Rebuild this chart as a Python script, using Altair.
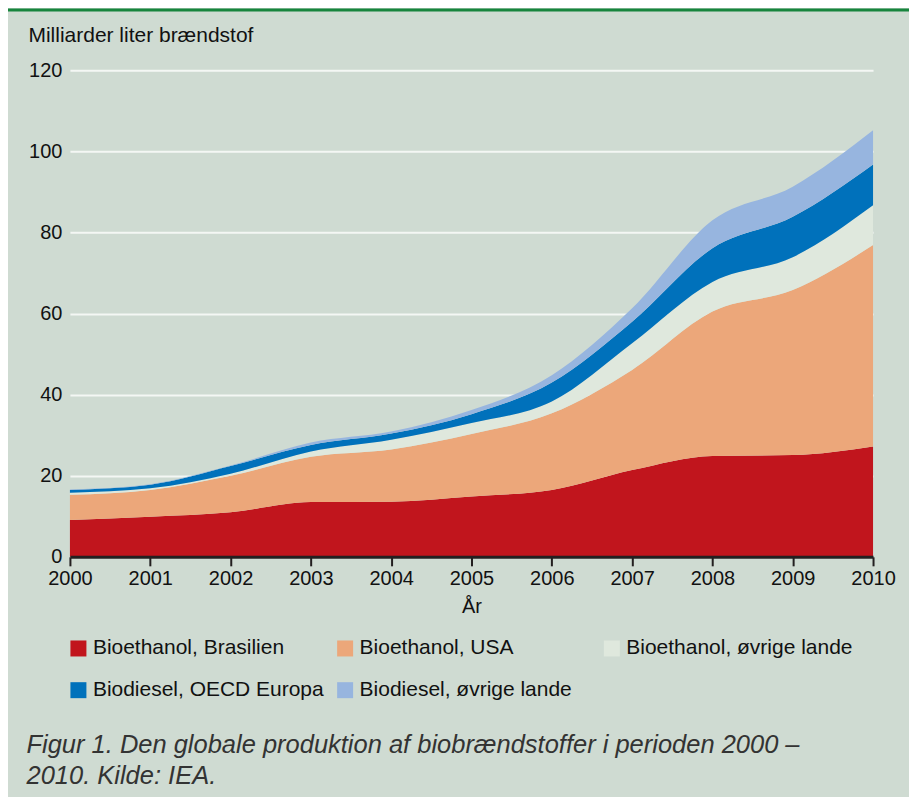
import altair as alt
import pandas as pd

years = list(range(2000, 2011))
series = [
    "Bioethanol, Brasilien",
    "Bioethanol, USA",
    "Bioethanol, øvrige lande",
    "Biodiesel, OECD Europa",
    "Biodiesel, øvrige lande",
]
# Milliarder liter per year (stack components)
bioethanol_brasilien = [9.1, 9.9, 11.0, 13.5, 13.6, 14.9, 16.5, 21.4, 24.9, 25.1, 27.2]
bioethanol_usa = [6.2, 6.6, 9.0, 11.2, 12.9, 15.4, 18.9, 24.7, 35.6, 40.7, 49.7]
bioethanol_ovrige = [0.5, 0.4, 0.5, 1.3, 2.4, 2.7, 2.9, 6.6, 7.3, 8.1, 9.8]
biodiesel_oecd = [0.7, 0.9, 1.9, 1.6, 1.5, 2.2, 4.7, 5.3, 8.3, 10.0, 10.1]
biodiesel_ovrige = [0.1, 0.1, 0.1, 0.6, 0.5, 1.0, 1.8, 3.3, 6.9, 7.4, 8.4]
colors = ["#c1151d", "#eca77a", "#dfe8dd", "#0071bb", "#97b5df"]
y_ticks = [0, 20, 40, 60, 80, 100, 120]
caption = [
    "Figur 1. Den globale produktion af biobrændstoffer i perioden 2000 –",
    "2010. Kilde: IEA.",
]

all_vals = [bioethanol_brasilien, bioethanol_usa, bioethanol_ovrige, biodiesel_oecd, biodiesel_ovrige]
rows = []
for i, (name, vals) in enumerate(zip(series, all_vals)):
    for yr, v in zip(years, vals):
        rows.append({"year": yr, "series": name, "value": v, "order": i})
df = pd.DataFrame(rows)

FONT = "Liberation Sans"

area = alt.Chart(df).mark_area(interpolate="monotone").encode(
    x=alt.X(
        "year:Q",
        scale=alt.Scale(domain=[2000, 2010], nice=False, zero=False),
        axis=alt.Axis(
            values=years, format="d", title="År", grid=False,
            domainColor="#231f20", domainWidth=3, tickColor="#231f20",
            tickWidth=2, tickSize=9, labelFontSize=20, labelColor="#111",
            labelPadding=3, labelFlush=False, titleFontSize=20,
            titleFontWeight="normal", titleColor="#111", titlePadding=8,
            zindex=1, labelFont=FONT, titleFont=FONT,
        ),
    ),
    y=alt.Y(
        "value:Q", stack="zero",
        scale=alt.Scale(domain=[0, 120], nice=False),
        axis=alt.Axis(
            values=y_ticks, title="Milliarder liter brændstof", domain=False,
            ticks=False, gridColor="#f4f7f4", gridWidth=2, labelFontSize=20,
            labelColor="#111", labelPadding=8, labelFont=FONT,
            titleAngle=0, titleAlign="left", titleBaseline="alphabetic",
            titleX=-42, titleY=-29, titleFontSize=21, titleFontWeight="normal",
            titleColor="#111", titleFont=FONT, zindex=0,
        ),
    ),
    color=alt.Color(
        "series:N",
        scale=alt.Scale(domain=series, range=colors),
        legend=alt.Legend(
            title=None, orient="none", legendX=-2, legendY=568, columns=3,
            direction="horizontal", gridAlign="all", columnPadding=10,
            rowPadding=20, symbolType="square", symbolSize=256,
            symbolStrokeWidth=0, symbolOpacity=1, labelFontSize=21,
            labelColor="#111", labelOffset=4, labelFont=FONT, padding=0,
            labelLimit=400,
        ),
    ),
    order=alt.Order("order:Q", sort="ascending"),
)

top_line = alt.Chart(pd.DataFrame({"a": [0]})).mark_rule(
    color="#17853d", strokeWidth=3
).encode(x=alt.value(-62), x2=alt.value(850), y=alt.value(-60.5))

chart = alt.layer(area, top_line).properties(
    width=804,
    height=487,
    padding={"left": 62, "top": 62, "right": 36, "bottom": 240},
    autosize=alt.AutoSizeParams(type="none"),
    title=alt.TitleParams(
        text=caption, orient="bottom", anchor="start", fontSize=25.5,
        font=FONT, fontStyle="italic", fontWeight="normal", color="#333",
        lineHeight=31, offset=32, dx=20,
    ),
).configure(background="#cfdbd2").configure_view(stroke=None)

chart.save("out.html", embed_options={"renderer": "svg", "actions": False})
